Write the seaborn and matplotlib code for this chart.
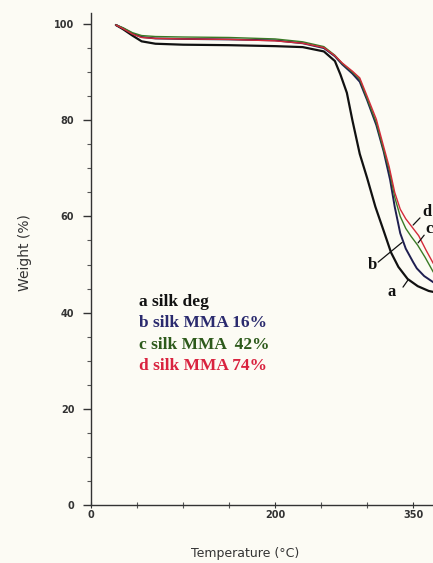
import numpy as np
import pandas as pd
import matplotlib
matplotlib.use('Agg')
import matplotlib.pyplot as plt
import seaborn as sns
from matplotlib.ticker import MultipleLocator, FixedLocator


# TGA curves
temp_a = [27, 35, 45, 55, 70, 100, 150, 200, 230, 253, 265, 271, 278, 284, 292, 300, 309, 318, 326, 334, 344, 355, 367, 372]
weight_a = [99.8, 98.9, 97.6, 96.4, 95.9, 95.7, 95.6, 95.4, 95.2, 94.3, 92.3, 89.5, 85.7, 80, 73, 68, 62, 57, 52.5, 49.5, 47, 45.5, 44.5, 44.3]

temp_b = [27, 35, 45, 55, 70, 100, 150, 200, 230, 253, 265, 273, 284, 292, 300, 310, 318, 325, 330, 336, 342, 350, 354, 362, 372]
weight_b = [99.8, 99.1, 98.0, 97.3, 97.0, 96.9, 96.8, 96.6, 96.0, 95.0, 93.3, 91.6, 89.7, 88.0, 84.2, 79.0, 73.5, 67.6, 62.0, 56.5, 53.3, 50.5, 49.2, 47.6, 46.3]

temp_c = [27, 35, 45, 55, 70, 100, 150, 200, 230, 253, 265, 273, 284, 292, 300, 310, 317, 324, 330, 336, 342, 348, 355, 363, 372]
weight_c = [99.8, 99.2, 98.2, 97.6, 97.4, 97.3, 97.2, 96.9, 96.3, 95.3, 93.5, 91.8, 90.0, 88.5, 84.5, 79.5, 74.5, 69.7, 64.0, 60.0, 57.5, 55.8, 54.0, 51.5, 48.4]

temp_d = [27, 35, 45, 55, 70, 100, 150, 200, 230, 253, 265, 273, 284, 292, 300, 310, 317, 324, 330, 336, 342, 348, 356, 364, 372]
weight_d = [99.8, 99.0, 97.9, 97.2, 97.0, 96.9, 96.8, 96.5, 96.0, 95.1, 93.4, 91.9, 90.2, 88.8, 85.0, 80.2, 75.2, 70.3, 65.0, 61.5, 59.5, 58.0, 56.0, 53.0, 50.2]

series_names = ['a', 'b', 'c', 'd']
legend_texts = ['a silk deg', 'b silk MMA 16%', 'c silk MMA  42%', 'd silk MMA 74%']
line_colors = ['#111111', '#1e1e50', '#3a7a26', '#d42a3a']
text_colors = ['#111111', '#2a2a6e', '#2d5a1b', '#d9233f']

bg = '#fcfbf4'

frames = []
for name, t, w in zip(series_names, [temp_a, temp_b, temp_c, temp_d],
                      [weight_a, weight_b, weight_c, weight_d]):
    frames.append(pd.DataFrame({'temp': t, 'weight': w, 'sample': name}))
df = pd.concat(frames, ignore_index=True)

sns.set_style('ticks')
fig = plt.figure(figsize=(4.33, 5.63), dpi=100, facecolor=bg)
ax = fig.add_axes([0.2102, 0.103, 0.7898, 0.874])
ax.set_facecolor(bg)

# draw back to front so red ends on top
for name, col, lw in [('a', line_colors[0], 1.6), ('b', line_colors[1], 1.4),
                      ('c', line_colors[2], 1.0), ('d', line_colors[3], 1.0)]:
    sns.lineplot(data=df[df['sample'] == name], x='temp', y='weight', color=col,
                 linewidth=lw, ax=ax, legend=False, clip_on=False)

ax.set_xlim(0, 371.6)
ax.set_ylim(0, 102.3)

sns.despine(ax=ax)
for s in ['left', 'bottom']:
    ax.spines[s].set_color('#333333')
    ax.spines[s].set_linewidth(1.0)

ax.yaxis.set_major_locator(MultipleLocator(20))
ax.yaxis.set_minor_locator(MultipleLocator(5))
ax.xaxis.set_major_locator(FixedLocator([0, 200, 350]))
ax.xaxis.set_minor_locator(MultipleLocator(50))
ax.tick_params(axis='y', which='major', direction='out', length=6, width=1,
               color='#333333', labelsize=7, labelcolor='#333333', pad=6)
ax.tick_params(axis='y', which='minor', direction='out', length=3, width=0.8, color='#555555')
ax.tick_params(axis='x', which='major', direction='inout', length=5, width=0.8,
               color='#333333', labelsize=7, labelcolor='#333333', pad=1)
ax.tick_params(axis='x', which='minor', direction='inout', length=4, width=0.8, color='#555555')
for lab in ax.get_xticklabels() + ax.get_yticklabels():
    lab.set_fontweight('bold')

ax.set_xlabel('Temperature (°C)', fontsize=9, color='#333333')
ax.xaxis.set_label_coords(0.45, -0.098)
ax.xaxis.label.set_va('center')
ax.set_ylabel('Weight (%)', fontsize=10, color='#333333')
ax.yaxis.set_label_coords(-0.193, 0.514)
ax.yaxis.label.set_va('center')

# legend-like text block
legend_y = [42.2, 37.8, 33.3, 28.9]
for txt, col, y in zip(legend_texts, text_colors, legend_y):
    ax.text(52, y, txt, color=col, fontsize=12.5, fontweight='bold',
            family='Liberation Serif', va='center', ha='left')

# curve labels with leader lines
label_pos = {'a': (327, 44.3), 'b': (305.5, 49.9), 'c': (367, 57.4), 'd': (365, 60.9)}
leader = {'a': ((339, 45.3), (344.5, 46.8)), 'b': ((312, 50.5), (338, 54.6)),
          'c': ((362, 56.1), (355.4, 54.5)), 'd': ((357.5, 59.7), (350, 58.2))}
for name in series_names:
    (x0, y0), (x1, y1) = leader[name]
    ax.plot([x0, x1], [y0, y1], color='#111111', linewidth=0.9, clip_on=False)
    ax.text(*label_pos[name], name, fontsize=12, fontweight='bold', family='Liberation Serif',
            ha='center', va='center', color='#111111', clip_on=False)

fig.savefig('out.png', dpi=100, facecolor=bg)
plt.close(fig)
